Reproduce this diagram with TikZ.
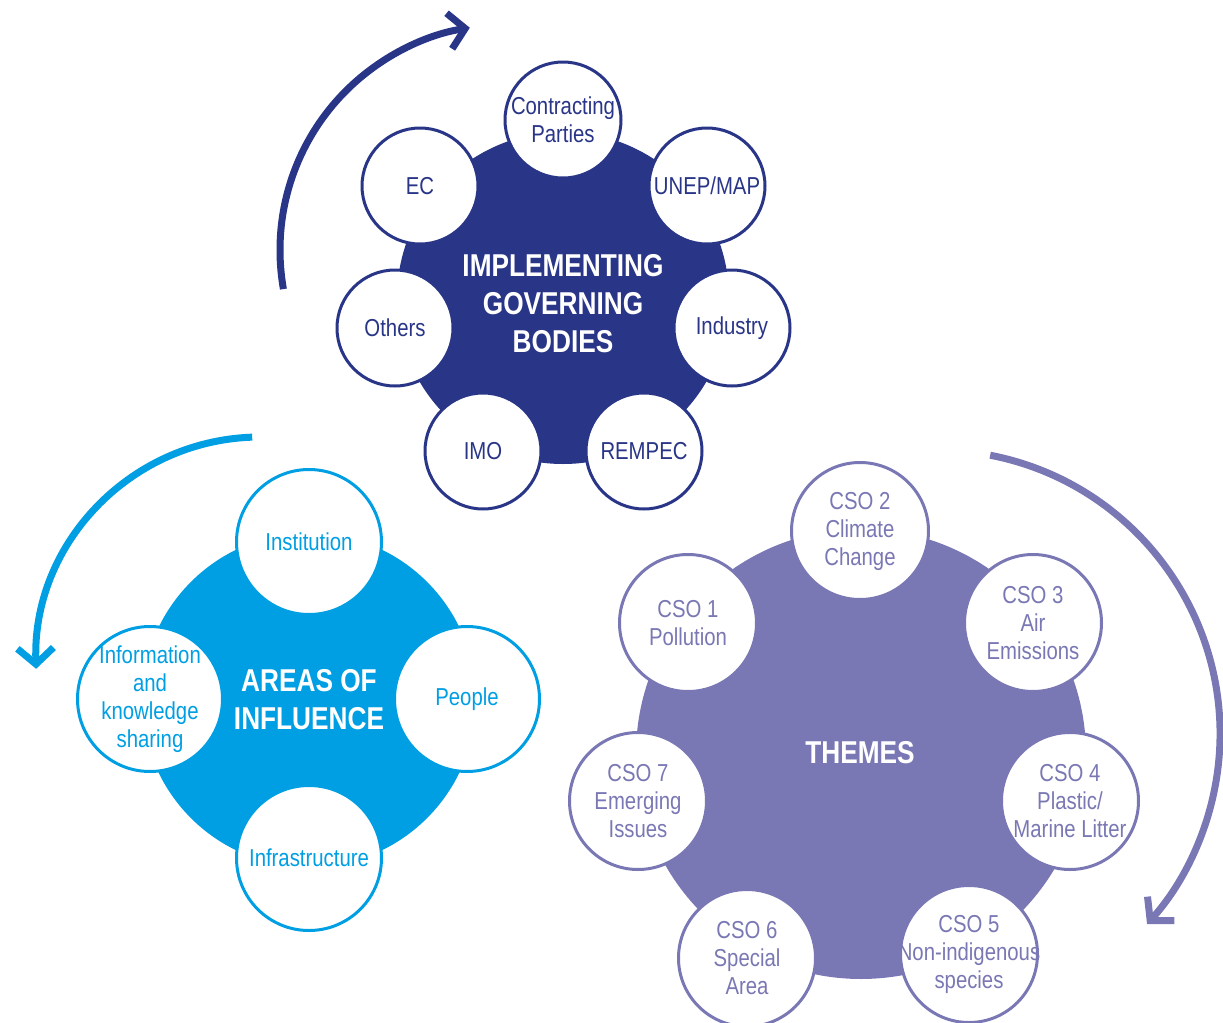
\documentclass[tikz,border=0pt]{standalone}
\usepackage{fontspec}
\setmainfont{Liberation Sans}[FakeStretch=0.83]
\usetikzlibrary{arrows.meta}
\definecolor{govblue}{HTML}{293587}
\definecolor{areablue}{HTML}{009FE3}
\definecolor{themepurple}{HTML}{7A78B4}
\newcommand{\lblfont}{\fontsize{12.25}{14}\selectfont}
\newcommand{\ttlfont}{\fontsize{15.8}{19}\selectfont\bfseries}

\begin{document}
\begin{tikzpicture}[x=0.5pt, y=0.5pt,
	hub/.style = {circle, inner sep=0pt},
	sat/.style = {circle, fill=white, line width=1.5pt, inner sep=-12pt, align=center, font=\lblfont},
	govsat/.style = {sat, draw=govblue, text=govblue, minimum size=58pt},
	areasat/.style = {sat, draw=areablue, text=areablue, minimum size=72.5pt},
	themesat/.style = {sat, draw=themepurple, text=themepurple, minimum size=68.5pt},
	title/.style = {text=white, align=center, font=\ttlfont},
	ring/.style = {line width=3.5pt, -{Straight Barb[length=8pt, width=18pt, sharp]}}]
	
	\useasboundingbox (0,0) rectangle (1223,-1023);
	
	\coordinate (govc) at (505,-250);
	\coordinate (areac) at (260,-661);
	\coordinate (themec) at (936,-734);
	
	\draw[ring, govblue] (govc) ++(190:225) arc[start angle=190, end angle=99, radius=225];
	\draw[ring, areablue] (areac) ++(92:224) arc[start angle=92, end angle=182, radius=224];
	\draw[ring, themepurple] (themec) ++(79:284) arc[start angle=79, end angle=-42, radius=284];
	
	\node[hub, fill=govblue, minimum size=166pt] (gov) at (563,-298) {};
	\node[govsat] (cp) at (563,-120) {Contracting\\Parties};
	\node[govsat] (unep) at (707,-186) {UNEP/MAP};
	\node[govsat] (ind) at (732,-328) {Industry};
	\node[govsat] (rem) at (644,-451) {REMPEC};
	\node[govsat] (imo) at (483,-451) {IMO};
	\node[govsat] (oth) at (395,-328) {Others};
	\node[govsat] (ec) at (420,-186) {EC};
	\node[title] (govt) at (563,-304) {IMPLEMENTING\\GOVERNING\\BODIES};
	
	\node[hub, fill=areablue, minimum size=167pt] (area) at (309,-700) {};
	\node[areasat] (inst) at (309,-542) {Institution};
	\node[areasat] (peop) at (467,-699) {People};
	\node[areasat] (infra) at (309,-858) {Infrastructure};
	\node[areasat] (info) at (150,-699) {Information\\and\\knowledge\\sharing};
	\node[title] (areat) at (309,-700) {AREAS OF\\INFLUENCE};
	
	\node[hub, fill=themepurple, minimum size=225pt] (theme) at (861,-754) {};
	\node[themesat] (cso2) at (860,-531) {CSO 2\\Climate\\Change};
	\node[themesat] (cso3) at (1033,-623) {CSO 3\\Air\\Emissions};
	\node[themesat] (cso4) at (1070,-801) {CSO 4\\Plastic/\\Marine Litter};
	\node[themesat] (cso5) at (969,-954) {CSO 5\\Non-indigenous\\species};
	\node[themesat] (cso6) at (747,-958) {CSO 6\\Special\\Area};
	\node[themesat] (cso7) at (638,-801) {CSO 7\\Emerging\\Issues};
	\node[themesat] (cso1) at (688,-623) {CSO 1\\Pollution};
	\node[title] (themet) at (860,-753) {THEMES};
	
\end{tikzpicture}
\end{document}
